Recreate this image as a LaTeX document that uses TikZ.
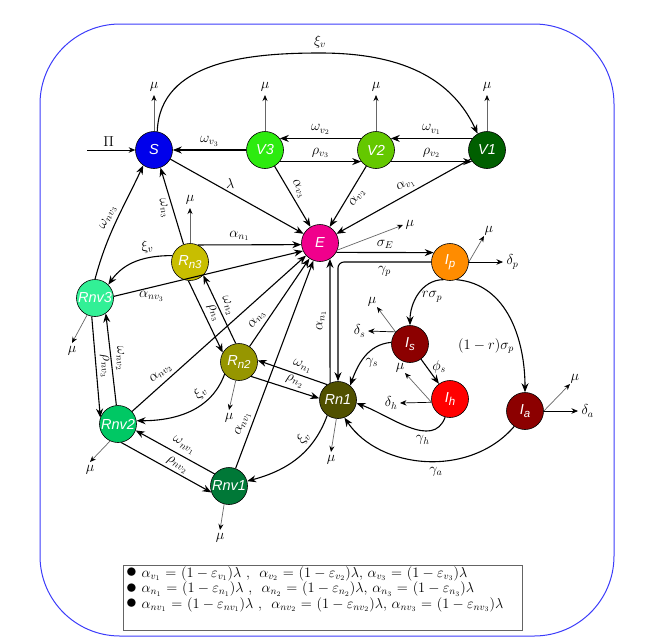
\documentclass[tikz,border=0pt]{standalone}
\usepackage{fontspec}
\usetikzlibrary{arrows.meta}
\newfontfamily\nodefont{Liberation Sans}
\definecolor{cS}{RGB}{0,0,235}
\definecolor{cV3}{RGB}{45,235,15}
\definecolor{cV2}{RGB}{100,200,0}
\definecolor{cV1}{RGB}{0,95,0}
\definecolor{cE}{RGB}{240,0,140}
\definecolor{cIp}{RGB}{255,140,0}
\definecolor{cRn3}{RGB}{200,190,0}
\definecolor{cRnv3}{RGB}{50,240,150}
\definecolor{cIs}{RGB}{140,0,0}
\definecolor{cRn2}{RGB}{150,150,0}
\definecolor{cIh}{RGB}{255,0,0}
\definecolor{cIa}{RGB}{140,0,0}
\definecolor{cRn1}{RGB}{80,80,0}
\definecolor{cRnv2}{RGB}{0,200,100}
\definecolor{cRnv1}{RGB}{0,120,55}
\definecolor{frameblue}{RGB}{60,60,250}
\definecolor{leggray}{RGB}{100,100,100}
\newcommand\nsub[1]{\raisebox{-2.5pt}{\fontsize{11.5}{11.5}\selectfont #1}}
\newcommand\lbul{\raisebox{-0.5pt}{\scalebox{1.5}{$\bullet$}}}
\begin{document}
\begin{tikzpicture}[x=1pt,y=1pt,
  font=\fontsize{14}{16}\selectfont,
  comp/.style={circle, draw=black, line width=0.6pt, minimum size=37pt, inner sep=0pt, text=white, font=\nodefont\itshape\fontsize{14.5}{15}\selectfont},
  ar/.style={line width=1.1pt, -{Stealth[length=9pt,width=7pt]}},
  mu/.style={draw=gray!80!black, line width=0.7pt, -{Stealth[length=6pt,width=5pt,color=black]}},
  thinar/.style={line width=0.7pt, -{Stealth[length=6.5pt,width=5.5pt]}},
  ]
\useasboundingbox (0,0) rectangle (652,-643);
% frame
\draw[frameblue, line width=1pt, rounded corners=80pt] (40,-24) rectangle (614,-636);
% compartments
\node[comp, fill=cS] (S) at (154,-150) {S};
\node[comp, fill=cV3] (V3) at (265,-150) {V3};
\node[comp, fill=cV2] (V2) at (376,-150) {V2};
\node[comp, fill=cV1] (V1) at (487,-150) {V1};
\node[comp, fill=cE] (E) at (320,-243) {E};
\node[comp, fill=cIp] (Ip) at (450,-262) {I\nsub{p}};
\node[comp, fill=cRn3] (Rn3) at (190,-262) {R\nsub{n3}};
\node[comp, fill=cRnv3] (Rnv3) at (95,-298) {Rnv3};
\node[comp, fill=cIs] (Is) at (410,-344) {I\nsub{s}};
\node[comp, fill=cRn2] (Rn2) at (239,-362) {R\nsub{n2}};
\node[comp, fill=cIh] (Ih) at (450,-399) {I\nsub{h}};
\node[comp, fill=cIa] (Ia) at (525,-411) {I\nsub{a}};
\node[comp, fill=cRn1] (Rn1) at (338,-400) {Rn1};
\node[comp, fill=cRnv2] (Rnv2) at (118,-424) {Rnv2};
\node[comp, fill=cRnv1] (Rnv1) at (229,-486) {Rnv1};
% free ends
\coordinate (Pi) at (87,-150);
\coordinate (muS) at (154,-95);
\coordinate (muV3) at (265,-95);
\coordinate (muV2) at (376,-95);
\coordinate (muV1) at (487,-95);
\coordinate (xiTop) at (320,-53);
\coordinate (muE) at (403,-225);
\coordinate (muIp) at (484,-236);
\coordinate (dIp) at (503,-262);
\coordinate (muIs) at (377,-307);
\coordinate (dIs) at (368,-331);
\coordinate (muIh) at (405,-373);
\coordinate (dIh) at (400,-403);
\coordinate (muIa) at (570,-384);
\coordinate (dIa) at (578,-411);
\coordinate (muRn3) at (190,-208);
\coordinate (muRnv3) at (72,-343);
\coordinate (muRn2) at (229,-410);
\coordinate (muRn1) at (331,-452);
\coordinate (muRnv2) at (90,-462);
\coordinate (muRnv1) at (220,-530);
% top row
\draw[thinar] (Pi) -- (S.west) node[pos=.45, above] {$\Pi$};
\draw[mu] (S.north) -- (muS) node[above] {$\mu$};
\draw[mu] (V3.north) -- (muV3) node[above] {$\mu$};
\draw[mu] (V2.north) -- (muV2) node[above] {$\mu$};
\draw[mu] (V1.north) -- (muV1) node[above] {$\mu$};
\draw[ar] (S.80) to[out=88,in=180] (xiTop) node[above=1pt] {$\xi_v$} to[out=0,in=115] (V1.120);
\draw[ar] (V3.west) -- (S.east) node[midway, above] {$\omega_{v_3}$};
\draw[ar] (V2.142) -- (V3.38) node[midway, above] {$\omega_{v_2}$};
\draw[ar] (V3.-38) -- (V2.218) node[midway, above] {$\rho_{v_3}$};
\draw[ar] (V1.142) -- (V2.38) node[midway, above] {$\omega_{v_1}$};
\draw[ar] (V2.-38) -- (V1.218) node[midway, above] {$\rho_{v_2}$};
\draw[ar] (S) -- (E) node[pos=.45, above] {$\lambda$};
\draw[ar] (V3) -- (E) node[pos=.45, above, sloped] {$\alpha_{v_3}$};
\draw[ar] (V2) -- (E) node[pos=.45, below, sloped] {$\alpha_{v_2}$};
\draw[ar] (V1) -- (E) node[pos=.45, above, sloped] {$\alpha_{v_1}$};
% E and infected
\draw[mu] (E.-22) -- (muE) node[right=-1pt] {$\mu$};
\draw[ar] (E.-30) -- (Ip.150) node[midway, above] {$\sigma_E$};
\draw[ar, rounded corners=6pt] (Ip.west) -| (Rn1.north) node[pos=.25, below] {$\gamma_p$};
\draw[ar] (Rn1.115) -- (E.-58) node[midway, anchor=south, rotate=90] {$\alpha_{n_1}$};
\draw[mu] (Ip.east) -- (muIp) node[above right=-3pt] {$\mu$};
\draw[thinar] (Ip.east) -- (dIp) node[right] {$\delta_p$};
\draw[ar] (Ip.250) to[out=180,in=90] node[pos=.55, right=1pt] {$r\sigma_p$} (Is.north);
\draw[ar] (Ip.290) to[out=-5,in=90] node[pos=.7, left=2pt] {$(1-r)\sigma_p$} (Ia.north);
\draw[mu] (Is.140) -- (muIs) node[above left=-3pt] {$\mu$};
\draw[thinar] (Is.140) -- (dIs) node[left=-1pt] {$\delta_s$};
\draw[ar] (Is) -- (Ih) node[pos=.3, right=2pt] {$\phi_s$};
\draw[ar] (Is.175) to[out=185,in=70] node[pos=.62, right=1pt] {$\gamma_s$} (Rn1.50);
\draw[mu] (Ih.190) -- (muIh) node[above left=-3pt] {$\mu$};
\draw[thinar] (Ih.190) -- (dIh) node[left=-1pt] {$\delta_h$};
\draw[ar] (Ih.255) to[out=250,in=-20] node[pos=.35, below=1pt] {$\gamma_h$} (Rn1.-10);
\draw[mu] (Ia.east) -- (muIa) node[above right=-3pt] {$\mu$};
\draw[thinar] (Ia.east) -- (dIa) node[right] {$\delta_a$};
\draw[ar] (Ia.235) .. controls (470,-478) and (380,-470) .. (Rn1.-70) node[pos=.45, below=2pt] {$\gamma_a$};
% left side
\draw[mu] (Rn3.north) -- (muRn3) node[above] {$\mu$};
\draw[ar] (Rn3.110) -- (S.290) node[midway, below, sloped] {$\omega_{n_3}$};
\draw[ar] (Rn3.65) -- (E.185) node[pos=.4, above] {$\alpha_{n_1}$};
\draw[ar] (Rn3.160) to[out=180,in=55] node[pos=.3, above=1pt, sloped] {$\xi_v$} (Rnv3.45);
\draw[ar] (Rnv3.north) to[out=75,in=245] node[midway, above, sloped] {$\omega_{nv_3}$} (S.235);
\draw[ar] (Rnv3.5) -- (E.205) node[pos=.2, below] {$\alpha_{nv_3}$};
\draw[mu] (Rnv3.245) -- (muRnv3) node[below] {$\mu$};
\draw[ar] (Rn3.265) -- (Rn2.150) node[midway, above, sloped] {$\rho_{n_3}$};
\draw[ar] (Rn2.100) -- (Rn3.-45) node[midway, above, sloped] {$\omega_{n_2}$};
\draw[ar] (Rn2) -- (E) node[pos=.25, above, sloped] {$\alpha_{n_3}$};
\draw[ar] (Rnv2) -- (E) node[pos=.2, above, sloped] {$\alpha_{nv_2}$};
\draw[ar] (Rnv1) -- (E) node[pos=.2, above, sloped] {$\alpha_{nv_1}$};
\draw[ar] (Rn1.125) -- (Rn2.5) node[pos=.4, above, sloped] {$\omega_{n_1}$};
\draw[ar] (Rn2.-50) -- (Rn1.175) node[pos=.6, above, sloped] {$\rho_{n_2}$};
\draw[mu] (Rn2.-100) -- (muRn2) node[below] {$\mu$};
\draw[ar] (Rn2.220) to[out=250,in=0] node[pos=.3, above, sloped] {$\xi_v$} (Rnv2.10);
\draw[mu] (Rn1.-95) -- (muRn1) node[below] {$\mu$};
\draw[ar] (Rn1.235) to[out=250,in=15] node[pos=.3, above, sloped] {$\xi_v$} (Rnv1.15);
\draw[ar] (Rnv3.-100) -- (Rnv2.160) node[midway, above, sloped] {$\rho_{nv_3}$};
\draw[ar] (Rnv2.95) -- (Rnv3.-55) node[midway, above, sloped] {$\omega_{nv_2}$};
\draw[ar] (Rnv1.140) -- (Rnv2.-20) node[pos=.45, above=1pt, sloped] {$\omega_{nv_1}$};
\draw[ar] (Rnv2.-80) -- (Rnv1.200) node[pos=.58, above=-1pt, sloped] {$\rho_{nv_2}$};
\draw[mu] (Rnv2.-115) -- (muRnv2) node[below] {$\mu$};
\draw[mu] (Rnv1.-105) -- (muRnv1) node[below] {$\mu$};
% legend
\node[draw=leggray, line width=1pt, minimum width=399pt, minimum height=65pt, anchor=north west, inner sep=0pt] (leg) at (123,-565) {};
\node[anchor=north west, align=left, inner sep=0pt, font=\fontsize{14.5}{15.5}\selectfont] (legtxt) at ([xshift=3pt,yshift=-1pt]leg.north west) {%
\lbul\ $\alpha_{v_1}$ = $(1-\varepsilon_{v_1})\lambda$ , \ $\alpha_{v_2}$ = $(1-\varepsilon_{v_2})\lambda$, $\alpha_{v_3}$ = $(1-\varepsilon_{v_3})\lambda$\\
\lbul\ $\alpha_{n_1}$ = $(1-\varepsilon_{n_1})\lambda$ , \ $\alpha_{n_2}$ = $(1-\varepsilon_{n_2})\lambda$, $\alpha_{n_3}$ = $(1-\varepsilon_{n_3})\lambda$\\
\lbul\ $\alpha_{nv_1}$ = $(1-\varepsilon_{nv_1})\lambda$ , \ $\alpha_{nv_2}$ = $(1-\varepsilon_{nv_2})\lambda$, $\alpha_{nv_3}$ = $(1-\varepsilon_{nv_3})\lambda$};
\end{tikzpicture}
\end{document}
